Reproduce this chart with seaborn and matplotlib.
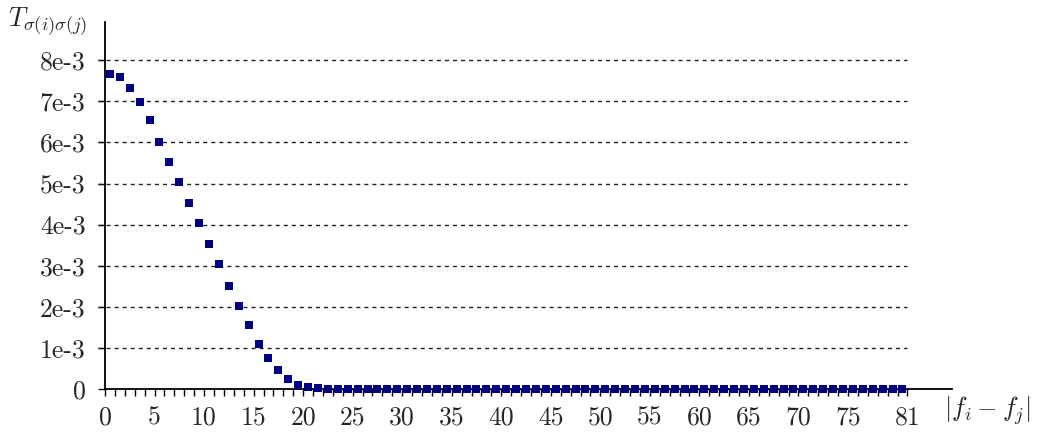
import numpy as np
import pandas as pd
import matplotlib
matplotlib.use("Agg")
import matplotlib.pyplot as plt
import seaborn as sns

# Distance |f_i - f_j| (bin centres) and transition value T
distance = [i + 0.5 for i in range(81)]
t_values_e3 = [7.66, 7.58, 7.33, 6.98, 6.55, 6.02, 5.52, 5.03, 4.53, 4.04,
               3.54, 3.04, 2.51, 2.03, 1.56, 1.10, 0.75, 0.46, 0.24, 0.10,
               0.05, 0.02] + [0.0] * 59
y_ticks = [0, 1e-3, 2e-3, 3e-3, 4e-3, 5e-3, 6e-3, 7e-3, 8e-3]
y_tick_labels = ["0", "1e-3", "2e-3", "3e-3", "4e-3", "5e-3", "6e-3", "7e-3", "8e-3"]
x_label_ticks = [0, 5, 10, 15, 20, 25, 30, 35, 40, 45, 50, 55, 60, 65, 70, 75, 81]

df = pd.DataFrame({"d": distance, "T": [v * 1e-3 for v in t_values_e3]})

sns.set_style("white")
plt.rcParams["font.family"] = ["cmr10"]
plt.rcParams["mathtext.fontset"] = "cm"
plt.rcParams["axes.formatter.use_mathtext"] = True

fig = plt.figure(figsize=(10.38, 4.33), dpi=100)
ax = fig.add_axes([105 / 1038, 1 - 389 / 433, (952 - 105) / 1038, (389 - 22) / 433])

# dashed horizontal guides spanning the data range
ax.hlines(y_ticks[1:], -0.7, 81, colors="#222222", linestyles=(0, (2.9, 2.9)),
          linewidth=1.0, zorder=1, clip_on=False)

sns.scatterplot(data=df, x="d", y="T", marker="s", s=32, color="#000080",
                linewidth=0, ax=ax, zorder=3, clip_on=False)

ax.set_xlim(0, 85.5)
ax.set_ylim(0, 8.93e-3)

ax.set_xticks(range(0, 82), minor=True)
ax.set_xticks(x_label_ticks)
ax.set_xticklabels([str(v) for v in x_label_ticks])
ax.set_yticks(y_ticks)
ax.set_yticklabels(y_tick_labels)
ax.tick_params(axis="both", which="both", direction="out", length=5, width=1.0,
               color="black", labelsize=18.5, bottom=True, left=True)
ax.tick_params(axis="x", which="major", pad=7)
ax.tick_params(axis="y", which="major", pad=9)

for side in ["top", "right"]:
    ax.spines[side].set_visible(False)
for side in ["left", "bottom"]:
    ax.spines[side].set_color("black")
    ax.spines[side].set_linewidth(1.3)

ax.set_xlabel("")
ax.set_ylabel("")

fig.text(8 / 1038, 1 - 22 / 433, r"$T_{\sigma(i)\sigma(j)}$", fontsize=19,
         ha="left", va="center")
fig.text(944 / 1038, 1 - 411 / 433, r"$|f_i - f_j|$", fontsize=19,
         ha="left", va="center")

fig.savefig("out.png", dpi=100)
